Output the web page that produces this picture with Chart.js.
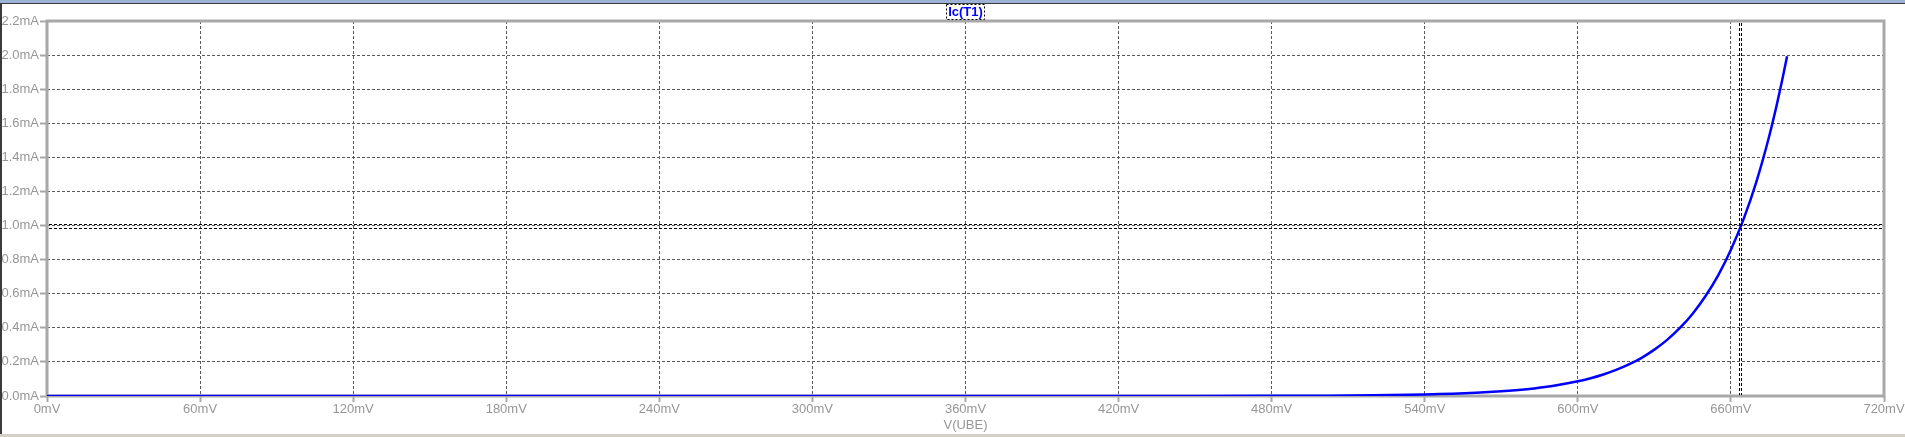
<!DOCTYPE html>
<html>
<head>
<meta charset="utf-8">
<title>Ic(T1) vs V(UBE)</title>
<script src="https://cdn.jsdelivr.net/npm/chart.js@4.4.1/dist/chart.umd.min.js"></script>
<style>
  html, body { margin: 0; padding: 0; background: #fff; }
  #wrap { position: relative; width: 1905px; height: 437px; overflow: hidden; }
  canvas { position: absolute; left: 0; top: 0; }
  #topbar { position: absolute; left: 0; top: 0; width: 1905px; height: 3px; background: #9db3d6; border-bottom: 1px solid #3a3a3a; }
  #leftbar { position: absolute; left: 0; top: 3px; width: 2px; height: 432px; background: #3a3a3a; }
  #bottombar { position: absolute; left: 0; top: 434px; width: 1905px; height: 3px; background: #d4d0c8; }
</style>
</head>
<body>
<div id="wrap">
  <canvas id="plot" width="1905" height="437"></canvas>
  <div id="topbar"></div>
  <div id="leftbar"></div>
  <div id="bottombar"></div>
</div>
<script>
// V(UBE) in mV, Ic(T1) in mA
const vube = [0, 200, 400, 450, 480, 500, 520, 540, 560, 570, 580, 590, 600, 605, 610, 615, 620, 625,
              630, 635, 640, 645, 650, 655, 660, 665, 670, 675, 678, 680, 682];
const ic = [0, 0, 0.00005, 0.0003, 0.0009, 0.0019, 0.004, 0.0087, 0.0186, 0.0273, 0.040, 0.0587, 0.086,
            0.104, 0.126, 0.153, 0.185, 0.224, 0.272, 0.329, 0.399, 0.483, 0.585, 0.708, 0.858, 1.039,
            1.258, 1.524, 1.71, 1.846, 1.993];

const xTickLabels = ['0mV', '60mV', '120mV', '180mV', '240mV', '300mV', '360mV', '420mV', '480mV',
                     '540mV', '600mV', '660mV', '720mV'];
const yTickLabels = ['0.0mA', '0.2mA', '0.4mA', '0.6mA', '0.8mA', '1.0mA', '1.2mA', '1.4mA', '1.6mA',
                     '1.8mA', '2.0mA', '2.2mA'];

const traceName = 'Ic(T1)';
const xAxisName = 'V(UBE)';
const cursorX = 663.7;  // mV
const cursorY = 1.0;    // mA

const frameColor = '#a8a8a8';
const textColor = '#969696';
const gridColor = '#5a5a5a';
const fontFamily = "'Liberation Sans', Arial, sans-serif";

const points = vube.map((v, i) => ({ x: v, y: ic[i] }));

// frame, cursor and texts like the LTspice window
const spicePlot = {
  id: 'spicePlot',
  beforeDatasetsDraw(chart) {
    const { ctx, chartArea: a } = chart;
    ctx.save();
    ctx.strokeStyle = frameColor;
    ctx.lineWidth = 3;
    ctx.strokeRect(a.left, a.top, a.right - a.left, a.bottom - a.top);
    ctx.restore();
  },
  afterDraw(chart) {
    const { ctx, chartArea: a, scales } = chart;
    const cx = Math.round(scales.x.getPixelForValue(cursorX));
    const cy = Math.round(scales.y.getPixelForValue(cursorY));

    ctx.save();
    ctx.strokeStyle = '#000';
    ctx.lineWidth = 1;
    ctx.setLineDash([3, 2]);
    ctx.beginPath();
    [cx - 1, cx + 1].forEach(x => {
      ctx.moveTo(x + 0.5, a.top + 2);
      ctx.lineTo(x + 0.5, a.bottom - 1);
    });
    [cy - 2, cy + 2].forEach(y => {
      ctx.moveTo(a.left + 2, y + 0.5);
      ctx.lineTo(a.right - 2, y + 0.5);
    });
    ctx.stroke();
    ctx.restore();

    // trace name in dashed box
    const mid = (a.left + a.right) / 2;
    ctx.save();
    ctx.font = 'bold 13px ' + fontFamily;
    ctx.textAlign = 'center';
    ctx.textBaseline = 'middle';
    const w = ctx.measureText(traceName).width;
    ctx.fillStyle = '#0000ff';
    ctx.fillText(traceName, mid, 12);
    ctx.strokeStyle = '#000';
    ctx.lineWidth = 1;
    ctx.setLineDash([2, 2]);
    ctx.strokeRect(Math.round(mid - w / 2 - 2) + 0.5, 4.5, Math.round(w + 3), 15);
    ctx.restore();

    // x axis name
    ctx.save();
    ctx.font = '13px ' + fontFamily;
    ctx.fillStyle = textColor;
    ctx.textAlign = 'center';
    ctx.textBaseline = 'middle';
    ctx.fillText(xAxisName, mid, 425);
    ctx.restore();
  }
};

new Chart(document.getElementById('plot'), {
  type: 'line',
  data: {
    datasets: [{
      label: traceName,
      data: points,
      borderColor: '#0000ff',
      borderWidth: 2.5,
      pointRadius: 0,
      cubicInterpolationMode: 'monotone',
      fill: false
    }]
  },
  options: {
    responsive: false,
    animation: false,
    devicePixelRatio: 1,
    layout: { padding: { top: 21, right: 21, left: 0, bottom: 0 } },
    plugins: {
      legend: { display: false },
      title: { display: false },
      tooltip: { enabled: false }
    },
    scales: {
      x: {
        type: 'linear',
        min: 0,
        max: 720,
        afterFit(scale) { scale.height = 41; },
        border: { display: false, dash: [3, 2] },
        grid: {
          color: gridColor,
          lineWidth: 1,
          tickColor: frameColor,
          tickWidth: 2,
          tickLength: 6,
          tickBorderDash: []
        },
        ticks: {
          stepSize: 60,
          autoSkip: false,
          maxRotation: 0,
          padding: 0,
          color: textColor,
          font: { family: fontFamily, size: 13 },
          callback: (value, index) => xTickLabels[index]
        }
      },
      y: {
        type: 'linear',
        min: 0,
        max: 2.2,
        afterFit(scale) { scale.width = 47; },
        border: { display: false, dash: [3, 2] },
        grid: {
          color: gridColor,
          lineWidth: 1,
          tickColor: frameColor,
          tickWidth: 2,
          tickLength: 7,
          tickBorderDash: []
        },
        ticks: {
          stepSize: 0.2,
          padding: 1,
          color: textColor,
          font: { family: fontFamily, size: 13 },
          callback: (value, index) => yTickLabels[index]
        }
      }
    }
  },
  plugins: [spicePlot]
});
</script>
</body>
</html>
